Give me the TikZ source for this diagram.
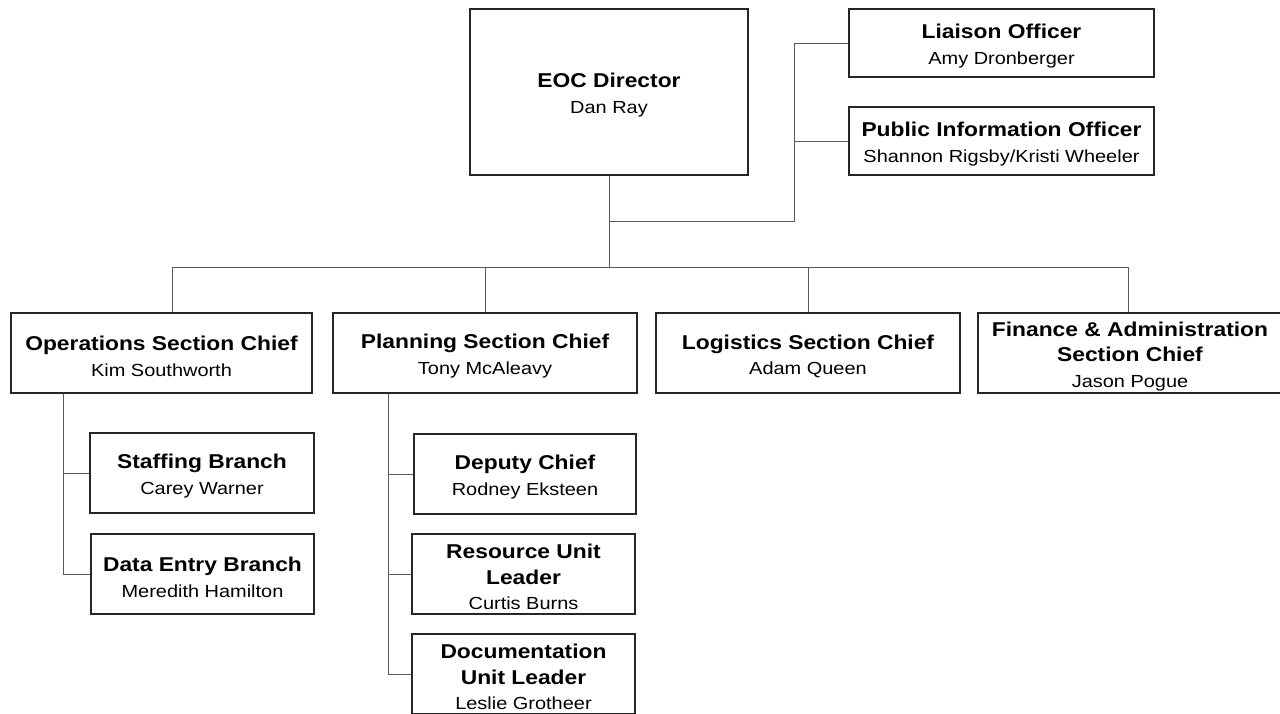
\documentclass[tikz,border=0pt]{standalone}
\usepackage{fontspec}
\setmainfont{Liberation Sans}[FakeStretch=1.14]
% bold role title; \headtitle adds a strut so the text block sits a little lower
\newcommand\roletitle[1]{{\bfseries\fontsize{20}{25.5}\selectfont #1}}
\newcommand\headtitle[1]{\rule{0pt}{21pt}\roletitle{#1}}
\begin{document}
\begin{tikzpicture}[x=1pt,y=-1pt,
  box/.style={draw=black!85, line width=1.2pt, fill=white, inner sep=0pt,
    align=center, font=\fontsize{17.5}{25.5}\selectfont},
  link/.style={draw=black!65, line width=1pt}]
\useasboundingbox (0,0) rectangle (1280,713);
\clip (0,0) rectangle (1280,713);
\fill[white] (0,0) rectangle (1280,713);

% command staff
\node[box, minimum width=278, minimum height=166] (dir) at (609,92)
  {\headtitle{EOC Director}\\Dan Ray};
\node[box, minimum width=305, minimum height=68] (lia) at (1001.5,43)
  {\headtitle{Liaison Officer}\\Amy Dronberger};
\node[box, minimum width=305, minimum height=68] (pio) at (1001.5,141)
  {\headtitle{Public Information Officer}\\Shannon Rigsby/Kristi Wheeler};

% section chiefs
\node[box, minimum width=301, minimum height=80] (ops) at (161.5,353)
  {\headtitle{Operations Section Chief}\\Kim Southworth};
\node[box, minimum width=304, minimum height=80] (plan) at (485,353)
  {\headtitle{Planning Section Chief}\\Tony McAleavy};
\node[box, minimum width=304, minimum height=80] (log) at (808,353)
  {\headtitle{Logistics Section Chief}\\Adam Queen};
\node[box, minimum width=304, minimum height=80] (fin) at (1130,353)
  {\headtitle{Finance \& Administration}\\\roletitle{Section Chief}\\Jason Pogue};

% operations branches
\node[box, minimum width=224, minimum height=80] (staff) at (202,473)
  {\headtitle{Staffing Branch}\\Carey Warner};
\node[box, minimum width=223, minimum height=80] (data) at (202.5,574)
  {\headtitle{Data Entry Branch}\\Meredith Hamilton};

% planning units
\node[box, minimum width=222, minimum height=80] (dep) at (525,474)
  {\headtitle{Deputy Chief}\\Rodney Eksteen};
\node[box, minimum width=223, minimum height=80] (res) at (523.5,574)
  {\headtitle{Resource Unit}\\\roletitle{Leader}\\Curtis Burns};
\node[box, minimum width=223, minimum height=80] (doc) at (523.5,674)
  {\headtitle{Documentation}\\\roletitle{Unit Leader}\\Leslie Grotheer};

% junction points
\coordinate (sjL) at (609,221);
\coordinate (sjR) at (794,221);
\coordinate (busL) at (172,267);
\coordinate (busR) at (1128,267);
\coordinate (ostem) at (63,0);
\coordinate (pstem) at (388,0);

% command staff connectors
\draw[link] (sjL) -- (sjR) |- (lia.west);
\draw[link] (sjR |- pio.west) -- (pio.west);
\draw[link] (dir.south) -- (dir.south |- busL);

% section bus
\draw[link] (busL) -- (busR);
\draw[link] (busL) -- (busL |- ops.north);
\draw[link] (plan.north |- busL) -- (plan.north);
\draw[link] (log.north |- busL) -- (log.north);
\draw[link] (busR) -- (busR |- fin.north);

% operations branch connectors
\draw[link] (ostem |- ops.south) -- (ostem |- data.west) -- (data.west);
\draw[link] (ostem |- staff.west) -- (staff.west);

% planning unit connectors
\draw[link] (pstem |- plan.south) -- (pstem |- doc.west) -- (doc.west);
\draw[link] (pstem |- dep.west) -- (dep.west);
\draw[link] (pstem |- res.west) -- (res.west);
\end{tikzpicture}
\end{document}
